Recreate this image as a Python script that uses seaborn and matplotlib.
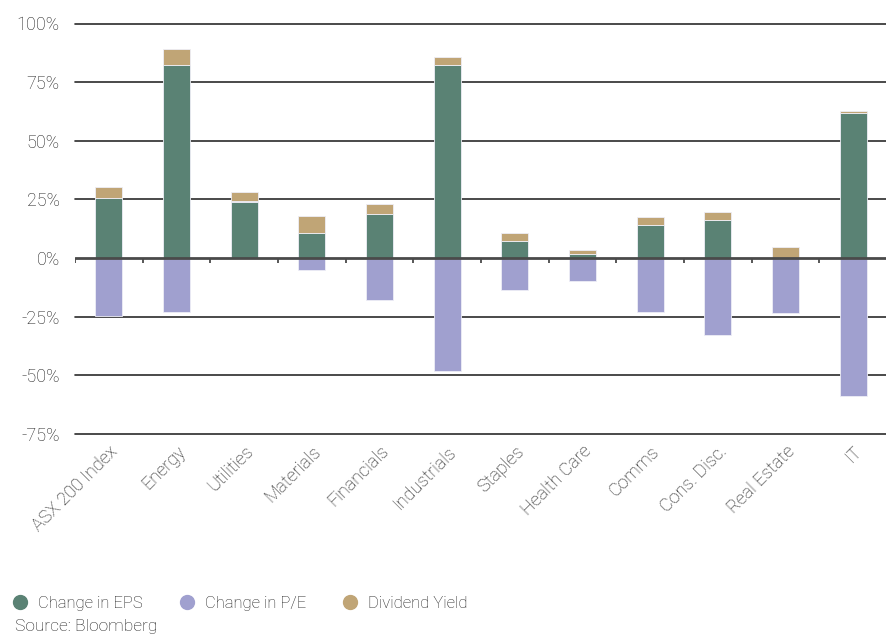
import numpy as np
import pandas as pd
import matplotlib
matplotlib.use("Agg")
import matplotlib.pyplot as plt
from matplotlib.lines import Line2D
import seaborn as sns

# Total return decomposition by sector (%)
sectors = ["ASX 200 Index", "Energy", "Utilities", "Materials", "Financials",
           "Industrials", "Staples", "Health Care", "Comms", "Cons. Disc.",
           "Real Estate", "IT"]
eps_change = [25.5, 82.5, 23.8, 10.6, 18.7, 82.1, 7.4, 1.8, 14.0, 16.3, 0.0, 61.7]
pe_change = [-24.5, -22.8, 0.5, -5.0, -17.8, -48.1, -13.4, -9.8, -23.2, -32.8, -23.6, -58.9]
div_yield = [4.6, 6.8, 4.0, 7.4, 4.4, 3.5, 3.2, 1.6, 3.3, 3.4, 4.8, 1.1]
y_ticks = [-75, -50, -25, 0, 25, 50, 75, 100]

series = [("Change in EPS", eps_change, "#5a8274"),
          ("Change in P/E", pe_change, "#a0a0cf"),
          ("Dividend Yield", div_yield, "#c0a576")]

sns.set_theme(style="white")
plt.rcParams["font.family"] = ["Roboto", "DejaVu Sans"]
plt.rcParams["font.weight"] = "light"

fig = plt.figure(figsize=(8.87, 6.35), dpi=100)
ax = fig.add_axes([75 / 887, 1 - 434 / 635, 1 - 75 / 887, (434 - 23.5) / 635])

# Stack positive values upward and negative values downward
pos_base = np.zeros(len(sectors))
neg_base = np.zeros(len(sectors))
for name, vals, col in series:
    vals = np.asarray(vals, dtype=float)
    bottoms = np.where(vals >= 0, pos_base, neg_base)
    df = pd.DataFrame({"sector": sectors, "value": vals})
    sns.barplot(data=df, x="sector", y="value", order=sectors, color=col,
                saturation=1, width=0.4, bottom=bottoms, ax=ax,
                edgecolor="#eeeef6", linewidth=0.6, zorder=2)
    pos_base = pos_base + np.where(vals >= 0, vals, 0)
    neg_base = neg_base + np.where(vals < 0, vals, 0)

ax.set_xlim(-0.5, len(sectors) - 0.5)
ax.set_ylim(-75, 100)
ax.set_yticks(y_ticks)
ax.set_yticklabels([f"{t}%" for t in y_ticks])

# Horizontal gridlines behind bars, zero line on top
for t in y_ticks:
    if t == 0:
        ax.axhline(t, color="#4a4a4a", lw=2.0, zorder=4)
    else:
        ax.axhline(t, color="#2b2b2b", lw=1.2, zorder=1, clip_on=False)

# Small ticks at category boundaries below the zero line
bounds = np.arange(-0.5, len(sectors) - 1, 1.0)
ax.vlines(bounds, -1.9, 0, color="#4a4a4a", lw=1.3, zorder=4)

txt = "#1e1e1e"
for s in ax.spines.values():
    s.set_visible(False)
ax.set_xlabel("")
ax.set_ylabel("")
ax.tick_params(axis="y", length=0, pad=11, labelsize=13, labelcolor=txt)
ax.tick_params(axis="x", length=0, pad=6, labelsize=13, labelcolor=txt)
plt.setp(ax.get_xticklabels(), rotation=45, ha="right", rotation_mode="anchor")

handles = [Line2D([0], [0], marker="o", ls="", markersize=10,
                  markerfacecolor=c, markeredgecolor=c, label=n)
           for n, _, c in series]
fig.legend(handles=handles, loc="lower left", bbox_to_anchor=(-0.003, 0.020),
           ncol=3, frameon=False, fontsize=12, handletextpad=0.43,
           handlelength=1.3, columnspacing=2.0, labelcolor=txt,
           borderaxespad=0.3)
fig.text(15 / 887, 1 - 627 / 635, "Source: Bloomberg", fontsize=12.5,
         color=txt, va="center", ha="left")

fig.savefig("out.png", dpi=100)
